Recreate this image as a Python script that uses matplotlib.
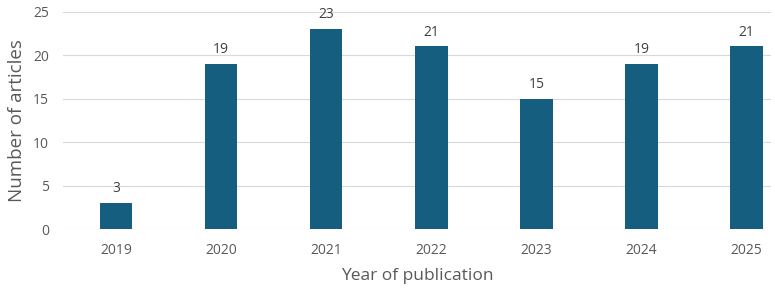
import matplotlib
matplotlib.use("Agg")
import matplotlib.pyplot as plt

years = ["2019", "2020", "2021", "2022", "2023", "2024", "2025"]
counts = [3, 19, 23, 21, 15, 19, 21]

BAR = "#165e80"
TXT = "#595959"

plt.rcParams["font.family"] = ["Open Sans", "DejaVu Sans"]

fig = plt.figure(figsize=(7.75, 2.91), dpi=100)
ax = fig.add_axes([0.0813, 0.212, 0.9135, 0.748])

x = range(len(years))
bars = ax.bar(x, counts, width=0.31, color=BAR, zorder=2)
for xi, v in zip(x, counts):
    ax.annotate(str(v), (xi, v), xytext=(0, 5), textcoords="offset points",
                ha="center", va="bottom", fontsize=10, color="#404040")

ax.set_xlim(-0.505, 6.233)
ax.set_ylim(0, 25)
ax.set_yticks([0, 5, 10, 15, 20, 25])
ax.set_xticks(list(x))
ax.set_xticklabels(years)
ax.tick_params(axis="both", length=0, labelsize=10, labelcolor=TXT)
ax.tick_params(axis="x", pad=10)
ax.tick_params(axis="y", pad=10)
ax.grid(axis="y", color="#d9d9d9", lw=0.8, zorder=0)
for s in ax.spines.values():
    s.set_visible(False)

ax.set_xlabel("Year of publication", fontsize=12.5, color=TXT, labelpad=7)
ax.set_ylabel("Number of articles", fontsize=13.5, color=TXT, labelpad=5)

fig.savefig("out.png", dpi=100)
